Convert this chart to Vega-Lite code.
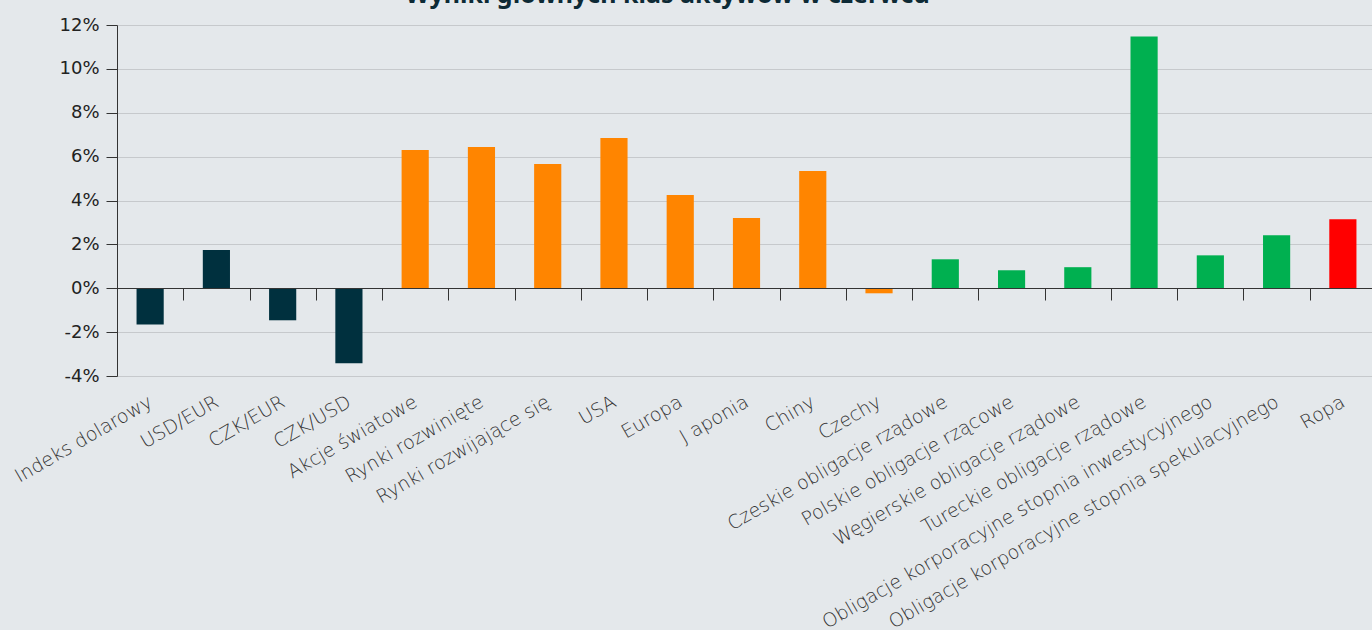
{
  "$schema": "https://vega.github.io/schema/vega-lite/v6.json",
  "autosize": {"type": "none"},
  "width": 1259,
  "height": 351,
  "padding": {"left": 117, "top": 25, "right": 0, "bottom": 254},
  "background": "#e4e8eb",
  "title": {
    "text": "Wyniki głównych klas aktywów w czerwcu",
    "font": "Noto Sans",
    "fontSize": 25,
    "fontWeight": "bold",
    "color": "#0d2a35",
    "anchor": "middle",
    "frame": "group",
    "dx": -79,
    "offset": 8
  },
  "data": {
    "values": [
      {"name": "Indeks dolarowy", "group": "fx", "value": -1.65},
      {"name": "USD/EUR", "group": "fx", "value": 1.74},
      {"name": "CZK/EUR", "group": "fx", "value": -1.46},
      {"name": "CZK/USD", "group": "fx", "value": -3.42},
      {"name": "Akcje światowe", "group": "eq", "value": 6.3},
      {"name": "Rynki rozwinięte", "group": "eq", "value": 6.44},
      {"name": "Rynki rozwijające się", "group": "eq", "value": 5.66},
      {"name": "USA", "group": "eq", "value": 6.85},
      {"name": "Europa", "group": "eq", "value": 4.25},
      {"name": "J aponia", "group": "eq", "value": 3.2},
      {"name": "Chiny", "group": "eq", "value": 5.34},
      {"name": "Czechy", "group": "eq", "value": -0.23},
      {"name": "Czeskie obligacje rządowe", "group": "bd", "value": 1.32},
      {"name": "Polskie obligacje rzącowe", "group": "bd", "value": 0.82},
      {"name": "Węgierskie obligacje rządowe", "group": "bd", "value": 0.96},
      {"name": "Tureckie obligacje rządowe", "group": "bd", "value": 11.48},
      {"name": "Obligacje korporacyjne stopnia inwestycyjnego", "group": "bd", "value": 1.5},
      {"name": "Obligacje korporacyjne stopnia spekulacyjnego", "group": "bd", "value": 2.42},
      {"name": "Ropa", "group": "oil", "value": 3.15}
    ]
  },
  "mark": {"type": "bar"},
  "encoding": {
    "x": {
      "field": "name",
      "type": "nominal",
      "sort": null,
      "title": null,
      "scale": {"paddingInner": 0.59, "paddingOuter": 0.295},
      "axis": {
        "offset": -88,
        "zindex": 1,
        "domainColor": "#333333",
        "domainWidth": 1,
        "tickColor": "#333333",
        "tickSize": 12,
        "tickOffset": 33.14,
        "labelOffset": -33.14,
        "labelAngle": -30,
        "labelAlign": "right",
        "labelBaseline": "middle",
        "labelPadding": 100,
        "labelFont": "DejaVu Sans",
        "labelFontSize": 19,
        "labelColor": "#333333",
        "labelFontWeight": 200,
        "labelLimit": 0,
        "labelOverlap": false
      }
    },
    "y": {
      "field": "value",
      "type": "quantitative",
      "title": null,
      "scale": {"domain": [-4, 12], "nice": false, "zero": false},
      "axis": {
        "values": [-4, -2, 0, 2, 4, 6, 8, 10, 12],
        "labelExpr": "datum.value + '%'",
        "labelFont": "DejaVu Sans",
        "labelFontSize": 18,
        "labelColor": "#222222",
        "labelPadding": 7,
        "tickSize": 11,
        "tickColor": "#333333",
        "domainColor": "#333333",
        "gridColor": "#c6c9cc",
        "gridWidth": 1
      }
    },
    "color": {
      "field": "group",
      "type": "nominal",
      "legend": null,
      "scale": {"domain": ["fx", "eq", "bd", "oil"], "range": ["#00303e", "#ff8500", "#00b050", "#ff0000"]}
    }
  },
  "config": {"view": {"stroke": null}}
}
